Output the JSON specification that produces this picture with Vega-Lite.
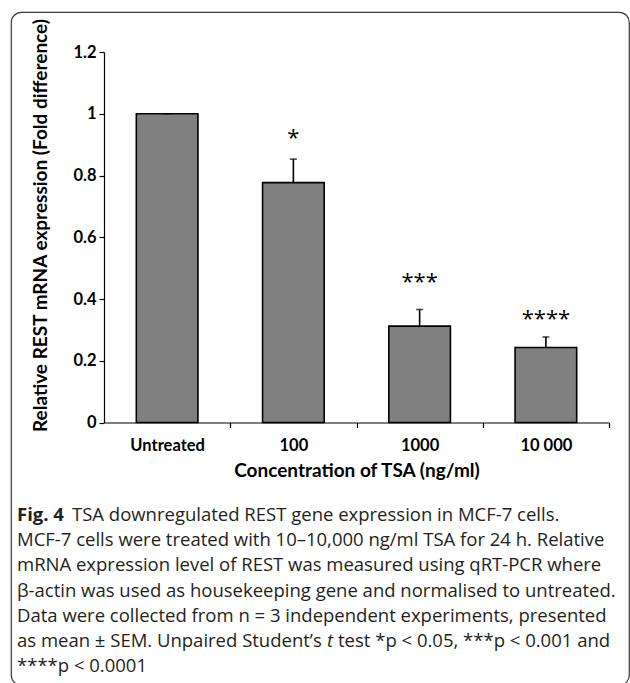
{
  "$schema": "https://vega.github.io/schema/vega-lite/v6.json",
  "width": 618,
  "height": 673,
  "padding": {"left": 11, "top": 12, "right": 1, "bottom": 0},
  "autosize": {"type": "none"},
  "background": "white",
  "datasets": {
    "bars": [
      {"conc": "Untreated", "mean": 1.0, "upper": 1.0, "star": "", "starY": 1.0},
      {"conc": "100", "mean": 0.777, "upper": 0.853, "star": "*", "starY": 0.93},
      {"conc": "1000", "mean": 0.312, "upper": 0.366, "star": "***", "starY": 0.465},
      {"conc": "10 000", "mean": 0.243, "upper": 0.277, "star": "****", "starY": 0.345}
    ],
    "caption": [
      {"line": 1, "part": "bold", "text": "Fig. 4"},
      {"line": 1, "part": "after", "text": "TSA downregulated REST gene expression in MCF-7 cells."},
      {"line": 2, "part": "plain", "text": "MCF-7 cells were treated with 10–10,000 ng/ml TSA for 24 h. Relative"},
      {"line": 3, "part": "plain", "text": "mRNA expression level of REST was measured using qRT-PCR where"},
      {"line": 4, "part": "plain", "text": "β-actin was used as housekeeping gene and normalised to untreated."},
      {"line": 5, "part": "plain", "text": "Data were collected from n = 3 independent experiments, presented"},
      {"line": 6, "part": "plain", "text": "as mean ± SEM. Unpaired Student’s"},
      {"line": 6, "part": "italic", "text": "t"},
      {"line": 6, "part": "tail", "text": "test *p < 0.05, ***p < 0.001 and"},
      {"line": 7, "part": "plain", "text": "****p < 0.0001"}
    ]
  },
  "layer": [
    {
      "data": {"name": "bars"},
      "encoding": {
        "x": {
          "field": "conc", "type": "nominal", "sort": ["Untreated", "100", "1000", "10 000"],
          "scale": {"range": [93, 598], "paddingInner": 0.512, "paddingOuter": 0.256},
          "axis": {
            "title": "Concentration of TSA (ng/ml)", "labelAngle": 0, "offset": -262.5,
            "bandPosition": 1, "tickOffset": 32.32, "labelOffset": -32.32,
            "labelPadding": 10, "titlePadding": 7
          }
        }
      },
      "layer": [
        {
          "mark": {"type": "bar", "fill": "#808080", "stroke": "black", "strokeWidth": 1.6},
          "encoding": {
            "y": {
              "field": "mean", "type": "quantitative",
              "scale": {"domain": [0, 1.2], "range": [410.5, 40], "nice": false, "zero": true},
              "axis": {
                "title": "Relative REST mRNA expression (Fold difference)",
                "values": [0, 0.2, 0.4, 0.6, 0.8, 1, 1.2], "format": "~g",
                "offset": -93, "labelPadding": 3, "titlePadding": 22, "titleY": 213
              }
            }
          }
        },
        {
          "mark": {"type": "rule", "color": "black", "strokeWidth": 1.6},
          "encoding": {"y": {"field": "mean", "type": "quantitative"}, "y2": {"field": "upper"}}
        },
        {
          "mark": {"type": "tick", "color": "black", "orient": "horizontal", "size": 7, "thickness": 1.6},
          "encoding": {"y": {"field": "upper", "type": "quantitative"}}
        },
        {
          "mark": {"type": "text", "font": "Open Sans", "fontSize": 22, "baseline": "middle", "dy": 3, "color": "black"},
          "encoding": {"y": {"field": "starY", "type": "quantitative"}, "text": {"field": "star"}}
        }
      ]
    },
    {
      "data": {"name": "caption"},
      "encoding": {
        "y": {
          "field": "line", "type": "ordinal",
          "scale": {"type": "point", "domain": [1, 2, 3, 4, 5, 6, 7], "range": [503, 654], "padding": 0},
          "axis": null
        },
        "text": {"field": "text"}
      },
      "layer": [
        {
          "transform": [{"filter": "datum.part === 'bold'"}],
          "mark": {"type": "text", "font": "Open Sans", "fontSize": 18.5, "fontWeight": "bold", "align": "left", "baseline": "middle", "color": "#231f20", "x": 6}
        },
        {
          "transform": [{"filter": "datum.part === 'after'"}],
          "mark": {"type": "text", "font": "Open Sans", "fontSize": 18.5, "align": "left", "baseline": "middle", "color": "#231f20", "x": 6, "dx": 55}
        },
        {
          "transform": [{"filter": "datum.part === 'plain'"}],
          "mark": {"type": "text", "font": "Open Sans", "fontSize": 18.5, "align": "left", "baseline": "middle", "color": "#231f20", "x": 6}
        },
        {
          "transform": [{"filter": "datum.part === 'italic'"}],
          "mark": {"type": "text", "font": "Open Sans", "fontSize": 18.5, "fontStyle": "italic", "align": "left", "baseline": "middle", "color": "#231f20", "x": 6, "dx": 310}
        },
        {
          "transform": [{"filter": "datum.part === 'tail'"}],
          "mark": {"type": "text", "font": "Open Sans", "fontSize": 18.5, "align": "left", "baseline": "middle", "color": "#231f20", "x": 6, "dx": 321}
        }
      ]
    }
  ],
  "resolve": {"scale": {"y": "independent"}},
  "config": {
    "view": {"stroke": "#3a3a3a", "strokeWidth": 1.2, "cornerRadius": 10},
    "axis": {
      "labelFont": "Lato", "labelFontWeight": "bold", "labelFontSize": 16.5, "labelColor": "black",
      "titleFont": "Lato", "titleFontWeight": "bold", "titleFontSize": 19, "titleColor": "black",
      "domainColor": "black", "domainWidth": 1.2, "tickColor": "black", "tickWidth": 1.2, "tickSize": 5, "grid": false
    }
  }
}
